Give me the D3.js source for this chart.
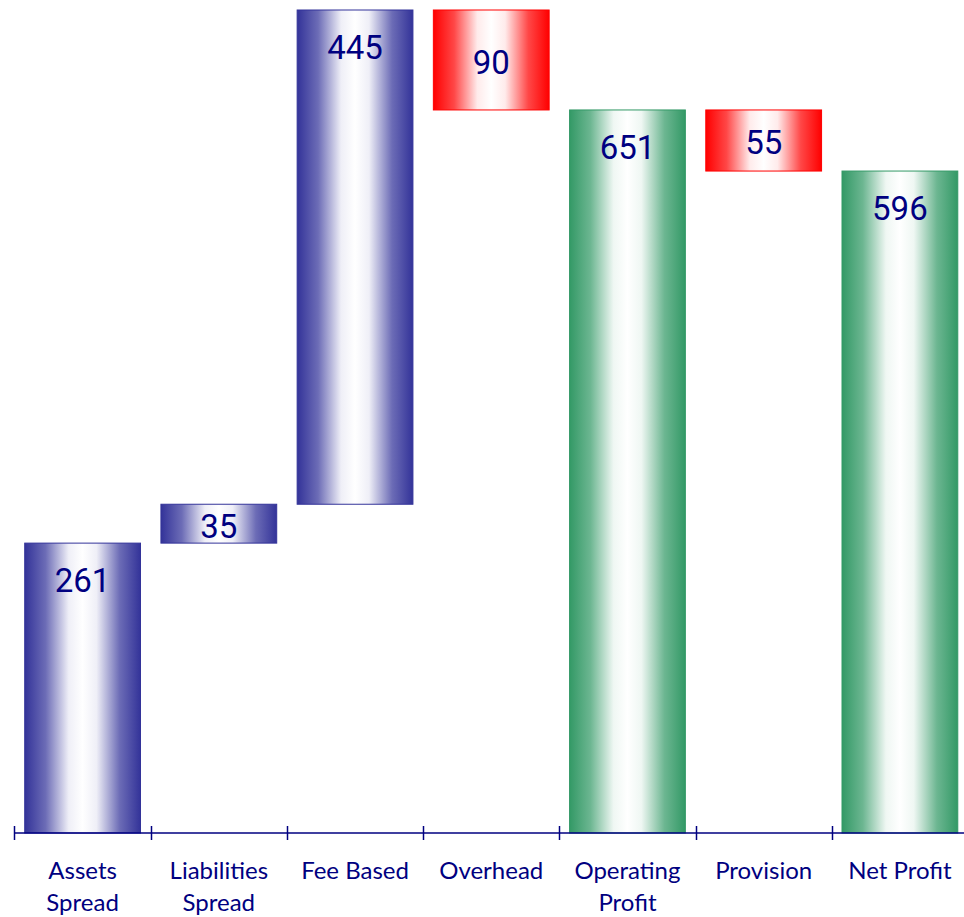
<!DOCTYPE html>
<html>
<head>
<meta charset="utf-8">
<script src="https://cdn.jsdelivr.net/npm/d3@7"></script>
<style>
  html, body { margin: 0; padding: 0; background: #fff; }
  svg { display: block; }
</style>
</head>
<body>
<svg id="chart" width="964" height="917"></svg>
<script>
// Waterfall: profit build-up from spreads and fees down to net profit
const categories = [["Assets", "Spread"], ["Liabilities", "Spread"], ["Fee Based"], ["Overhead"], ["Operating", "Profit"], ["Provision"], ["Net Profit"]];
const values = [261, 35, 445, 90, 651, 55, 596];
const kinds = ["gain", "gain", "gain", "loss", "total", "loss", "total"];

// floating segments: gains stack up, losses come down, totals rest on zero
let running = 0;
const bars = values.map((v, i) => {
  const k = kinds[i];
  let y0, y1;
  if (k === "gain") { y0 = running; y1 = running + v; running = y1; }
  else if (k === "loss") { y1 = running; y0 = running - v; running = y0; }
  else { y0 = 0; y1 = v; running = v; }
  return { i, v, k, y0, y1 };
});

const svg = d3.select("#chart");
const x = d3.scaleBand().domain(d3.range(categories.length)).range([14.5, 968]).paddingInner(0.15).paddingOuter(0.075);
const y = d3.scaleLinear().domain([0, 741]).range([833, 10]);

const defs = svg.append("defs");
const palette = { gain: "#333399", loss: "#ff0000", total: "#339966" };
Object.entries(palette).forEach(([k, c]) => {
  const g = defs.append("linearGradient").attr("id", "g-" + k).attr("x1", "0%").attr("x2", "100%").attr("y1", "0%").attr("y2", "0%");
  [[0, 1], [0.18, 0.72], [0.38, 0.08], [0.5, 0], [0.62, 0.08], [0.82, 0.72], [1, 1]].forEach(([o, a]) => {
    g.append("stop").attr("offset", o).attr("stop-color", d3.interpolateRgb("#ffffff", c)(a));
  });
});

svg.selectAll("rect.bar").data(bars).enter().append("rect")
  .attr("class", "bar")
  .attr("x", d => x(d.i))
  .attr("width", x.bandwidth())
  .attr("y", d => y(d.y1))
  .attr("height", d => y(d.y0) - y(d.y1))
  .attr("fill", d => "url(#g-" + d.k + ")")
  .attr("stroke", d => palette[d.k])
  .attr("stroke-width", 1);

// short segments carry their value in the middle, tall ones near the top
svg.selectAll("text.val").data(bars).enter().append("text")
  .attr("class", "val")
  .attr("x", d => x(d.i) + x.bandwidth() / 2)
  .attr("y", d => {
    const top = y(d.y1), h = y(d.y0) - top;
    return h < 120 ? top + h / 2 + 2 : top + 37;
  })
  .attr("dy", "0.36em")
  .attr("text-anchor", "middle")
  .attr("font-family", "Roboto, sans-serif")
  .attr("font-size", 33)
  .attr("fill", "#000080")
  .text(d => d.v);

// category axis with ticks at band boundaries
const axisY = y(0);
const step = x.step();
const start = x(0) - x.paddingOuter() * step;
const ax = svg.append("g").attr("stroke", "#000080").attr("stroke-width", 1.5);
ax.append("line").attr("x1", start).attr("x2", 964).attr("y1", axisY).attr("y2", axisY);
d3.range(categories.length + 1).forEach(i => {
  const tx = Math.round(start + i * step) + 0.5;
  ax.append("line").attr("x1", tx).attr("x2", tx).attr("y1", axisY - 7).attr("y2", axisY + 7);
});

const lab = svg.selectAll("text.cat").data(categories).enter().append("text")
  .attr("class", "cat")
  .attr("text-anchor", "middle")
  .attr("font-family", "Lato, sans-serif")
  .attr("font-size", 24)
  .attr("fill", "#000080");
lab.selectAll("tspan").data((d, i) => d.map((t, j) => ({ t, j, i }))).enter().append("tspan")
  .attr("x", d => x(d.i) + x.bandwidth() / 2)
  .attr("y", d => 879 + d.j * 32)
  .text(d => d.t);
</script>
</body>
</html>
